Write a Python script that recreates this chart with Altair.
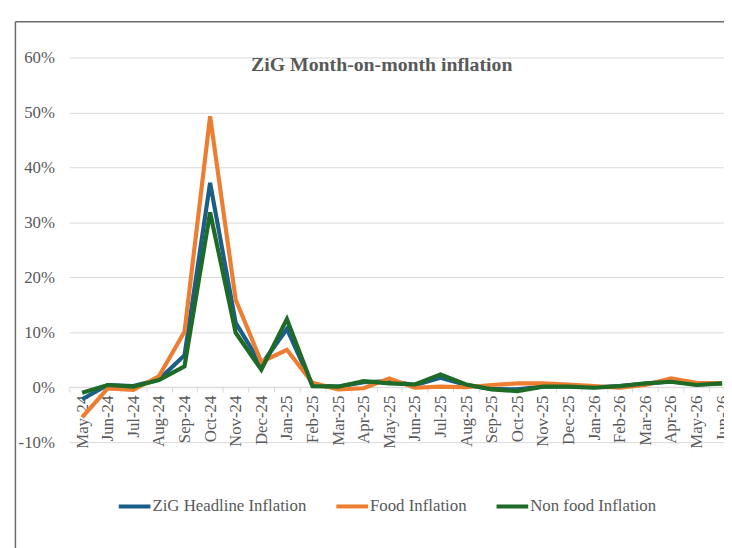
import altair as alt
import pandas as pd

months = ["May-24", "Jun-24", "Jul-24", "Aug-24", "Sep-24", "Oct-24", "Nov-24", "Dec-24",
          "Jan-25", "Feb-25", "Mar-25", "Apr-25", "May-25", "Jun-25", "Jul-25", "Aug-25",
          "Sep-25", "Oct-25", "Nov-25", "Dec-25", "Jan-26", "Feb-26", "Mar-26", "Apr-26",
          "May-26", "Jun-26"]

headline = [-2.2, 0.4, 0.2, 1.4, 5.8, 37.2, 11.7, 4.1, 10.6, 0.3, 0.1, 0.9, 1.1,
            0.4, 1.7, 0.4, -0.3, -0.4, 0.1, 0.2, 0.0, 0.2, 0.6, 1.1, 0.5, 0.7]
food = [-5.5, -0.2, -0.5, 2.0, 10.1, 49.3, 15.9, 4.6, 6.8, 0.8, -0.4, -0.2, 1.6,
        -0.1, 0.1, 0.0, 0.4, 0.7, 0.7, 0.5, 0.2, -0.1, 0.4, 1.6, 0.8, 0.7]
nonfood = [-1.0, 0.4, 0.1, 1.3, 3.8, 31.8, 9.9, 3.2, 12.4, 0.2, 0.1, 1.1, 0.7,
           0.5, 2.3, 0.5, -0.4, -0.7, 0.1, 0.1, -0.1, 0.2, 0.7, 1.0, 0.4, 0.7]

series_names = ["ZiG Headline Inflation", "Food Inflation", "Non food Inflation"]
series_colors = ["#1B5E86", "#ED7D31", "#1D6B27"]
y_ticks = [-0.1, 0.0, 0.1, 0.2, 0.3, 0.4, 0.5, 0.6]

rows = []
for name, vals in zip(series_names, [headline, food, nonfood]):
    for m, v in zip(months, vals):
        rows.append({"month": m, "series": name, "value": v / 100.0})
df = pd.DataFrame(rows)

FONT = "Liberation Serif"
TXT = "#595959"
GRID = "#d9d9d9"

lines = alt.Chart(df).mark_line(strokeWidth=4.2).encode(
    x=alt.X("month:N", sort=months,
            scale=alt.Scale(type="band", paddingInner=0, paddingOuter=0, range=[0, 673]),
            axis=alt.Axis(title=None, orient="bottom", offset=-55.6, labelAngle=-90,
                          tickBand="extent", domainColor=GRID, tickColor=GRID, tickSize=5,
                          labelFont=FONT, labelFontSize=17, labelColor=TXT, labelPadding=3,
                          labelOverlap=False, grid=False)),
    y=alt.Y("value:Q", scale=alt.Scale(domain=[-0.1, 0.6], nice=False, zero=False),
            axis=alt.Axis(title=None, values=y_ticks, domain=False, ticks=False,
                          gridColor=GRID, gridWidth=1, labelPadding=15,
                          labelFont=FONT, labelFontSize=17, labelColor=TXT,
                          labelExpr="(datum.value < -0.0001 ? '-' : '') + format(abs(datum.value) * 100, '.0f') + '%'")),
    color=alt.Color("series:N", scale=alt.Scale(domain=series_names, range=series_colors),
                    legend=alt.Legend(title=None, orient="none", legendX=48, legendY=436,
                                      direction="horizontal", symbolType="stroke",
                                      symbolSize=1024, symbolStrokeWidth=4,
                                      labelFont=FONT, labelFontSize=17, labelColor=TXT,
                                      labelOffset=0, columnPadding=22, padding=0)),
)

frame_df = pd.DataFrame({"k": [0]})
left_border = alt.Chart(frame_df).mark_rule(color="#6b6b6b", strokeWidth=1.5).encode(
    x=alt.value(-54.5), y=alt.value(-36), y2=alt.value(600))
top_border = alt.Chart(frame_df).mark_rule(color="#6b6b6b", strokeWidth=1.5).encode(
    x=alt.value(-54.5), x2=alt.value(800), y=alt.value(-36))

chart = alt.layer(lines, left_border, top_border).properties(
    width=662, height=389,
    title=alt.TitleParams("ZiG Month-on-month inflation", font=FONT, fontSize=20,
                          fontWeight="bold", color=TXT, anchor="start", dx=239, dy=58),
    autosize=alt.AutoSizeParams(type="none"),
    padding={"left": 62, "top": 47, "right": 0, "bottom": 104},
).configure(font=FONT).configure_axis(labelFont=FONT).configure_legend(labelFont=FONT).configure_view(stroke=None)

chart.save("out.html", embed_options={"renderer": "svg", "actions": False})
